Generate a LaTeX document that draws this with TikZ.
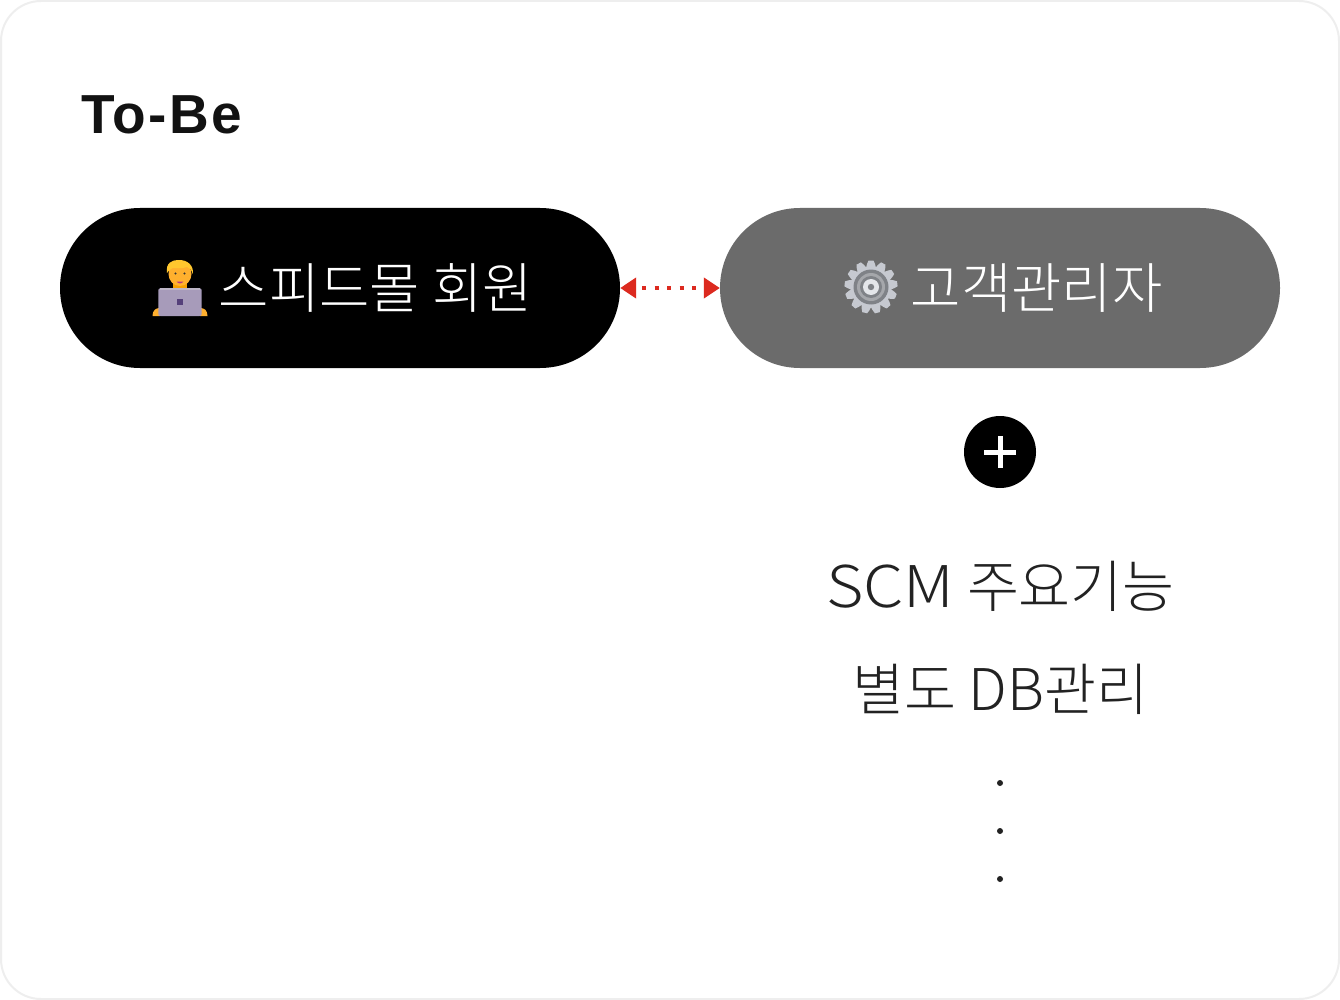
\documentclass[tikz,border=0pt]{standalone}
\usepackage{fontspec}
\usetikzlibrary{arrows.meta}
\setmainfont{Noto Sans CJK KR}
\newfontfamily\krlight{Noto Sans CJK KR Light}
\newfontfamily\titlefont{Liberation Sans Bold}
\newcommand{\latinwide}[1]{{\fontsize{57.5}{60}\selectfont\addfontfeature{FakeStretch=1.12}#1}}
\newcommand{\latinpart}[1]{{\fontsize{57.5}{60}\selectfont #1}}
\definecolor{inkdark}{HTML}{222222}
\definecolor{pillgray}{HTML}{6B6B6B}
\definecolor{arrowred}{HTML}{DC2A1F}
\definecolor{cardline}{HTML}{EEEEEE}
\definecolor{skinc}{HTML}{FFB02E}
\definecolor{skindark}{HTML}{F59F00}
\definecolor{hairc}{HTML}{FFC72E}
\definecolor{laptopc}{HTML}{A79BBA}
\definecolor{laptoptop}{HTML}{BDB5C6}
\definecolor{logoc}{HTML}{55407A}
\definecolor{gearlight}{HTML}{C6C9D0}
\definecolor{gearring}{HTML}{7F8287}
\definecolor{gearmid}{HTML}{A5A7AB}
\definecolor{gearhub}{HTML}{E4E6EA}
\tikzset{
  pillbox/.style={minimum width=560pt,minimum height=160pt,inner sep=0pt,rounded corners=79.9pt},
  pilltext/.style={text=white,font=\fontsize{54.7}{60}\selectfont\krlight,anchor=base,inner sep=0pt},
  bodytext/.style={text=inkdark,font=\fontsize{56.5}{60}\selectfont\krlight,anchor=base,inner sep=0pt},
  dotnode/.style={circle,fill=inkdark,minimum size=6pt,inner sep=0pt},
  linkarrow/.style={draw=arrowred,line width=4pt,dash pattern=on 4pt off 8.5pt,dash phase=5.5pt,
    {Triangle[length=16pt,width=20pt,fill=arrowred]}-{Triangle[length=16pt,width=20pt,fill=arrowred]}},
}
\begin{document}
\begin{tikzpicture}[x=1pt,y=-1pt]
\useasboundingbox (0,0) rectangle (1340,1000);
\draw[cardline,line width=2pt,fill=white,rounded corners=40pt] (1,1) rectangle (1339,999);
\node[anchor=base west,inner sep=0pt,text=black!93,font=\fontsize{55}{60}\selectfont\titlefont\addfontfeature{LetterSpace=4}] (title) at (81,133.5) {To-Be};
\node[pillbox,fill=black] (member) at (340,288) {};
\node[pillbox,fill=pillgray] (admin) at (1000,288) {};
\draw[linkarrow] (member.east) -- (admin.west);
\node[pilltext] (membertext) at (376,308) {스피드몰 회원};
\node[pilltext] (admintext) at (1036.5,308) {고객관리자};
% person emoji
\fill[skinc] (152.5,316) .. controls (152.5,310) and (156,308) .. (160,308) -- (160,316) -- cycle;
\fill[skinc] (207.5,316) .. controls (207.5,310) and (204,308) .. (200,308) -- (200,316) -- cycle;
\fill[skindark] (173,282) rectangle (187,290);
\fill[skinc] (180,274) ellipse (11.5 and 12);
\fill[hairc] (167,273) .. controls (165.5,263) and (172,260) .. (178,260) .. controls (188,259.5) and (194,266) .. (192.8,274) .. controls (191.5,270) and (190,267.5) .. (187,267) .. controls (181,269) and (176,268) .. (172.5,268) .. controls (170,269) and (168.5,271) .. (167,273) -- cycle;
\fill[black!80] (175.5,273.5) circle (1.1) (184.5,273.5) circle (1.1);
\fill[magenta!70!black] (176.5,281.5) .. controls (178,284) and (182,284) .. (183.5,281.5) -- cycle;
\fill[laptopc,rounded corners=2pt] (158.3,288.3) rectangle (201.7,316);
\fill[laptoptop] (160,288.3) rectangle (200,290);
\fill[logoc] (176.7,299) rectangle (183.3,305);
% gear emoji
\foreach \a in {0,27.7,...,340} {
  \fill[gearlight,rotate around={\a:(871,287)}] (867,264) -- (868.5,260.5) -- (873.5,260.5) -- (875,264) -- (876.5,270) -- (865.5,270) -- cycle;
}
\fill[gearlight] (871,287) circle (20.5);
\fill[gearring] (871,287) circle (17.5);
\fill[gearmid] (871,287) circle (14);
\fill[gearring] (871,287) circle (11);
\fill[gearhub] (871,287) circle (8);
\fill[gearring] (871,287) circle (3.2);
% plus
\node[circle,fill=black,minimum size=72pt,inner sep=0pt] (plus) at (1000,452) {};
\draw[white,line width=5pt] (984,452) -- (1016,452);
\draw[white,line width=5pt] (1000,436) -- (1000,468);
% text
\node[bodytext] (scm) at (1000.5,607.3) {\latinwide{SCM} 주요기능};
\node[bodytext] (db) at (1000,710) {별도 \latinpart{DB}관리};
\node[dotnode] (d1) at (1000,783) {};
\node[dotnode] (d2) at (1000,831) {};
\node[dotnode] (d3) at (1000,879) {};
\end{tikzpicture}
\end{document}
